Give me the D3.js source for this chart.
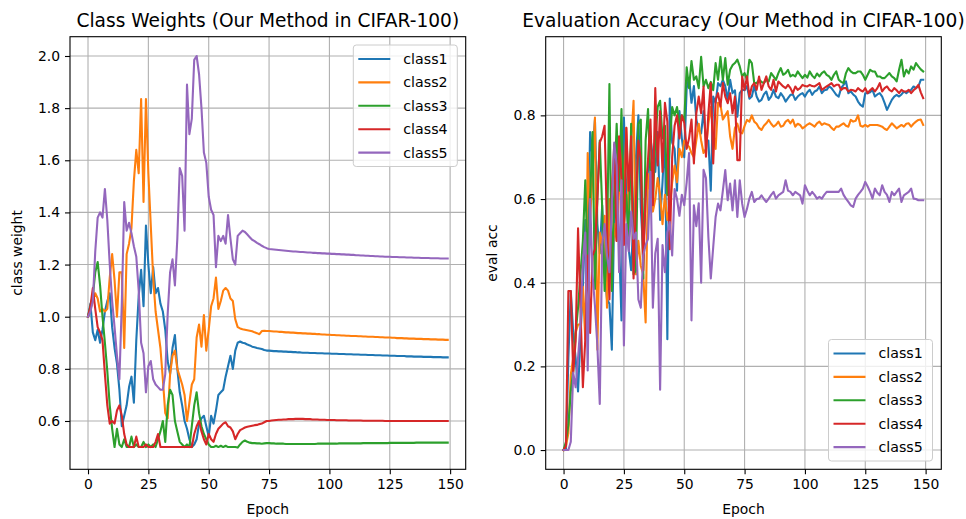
<!DOCTYPE html>
<html><head><meta charset="utf-8">
<script src="https://cdn.jsdelivr.net/npm/d3@7"></script>
<style>body{margin:0;background:#fff;}svg{display:block;}text{font-family:"DejaVu Sans",sans-serif;fill:#000;}</style>
</head><body><svg id="c" width="966" height="519"></svg>
<script>
const epochs = d3.range(150);
const classNames = ["class1","class2","class3","class4","class5"];
const classColors = ["#1f77b4","#ff7f0e","#2ca02c","#d62728","#9467bd"];
const xTicks = [0,25,50,75,100,125,150];
const weightTicks = [0.6,0.8,1.0,1.2,1.4,1.6,1.8,2.0];
const accTicks = [0.0,0.2,0.4,0.6,0.8];

const weightClass1 = [1.00,1.05,0.94,0.91,0.95,0.90,0.95,1.02,1.06,1.09,
 0.96,0.88,0.82,0.72,0.58,0.62,0.66,0.73,0.77,0.67,
 0.91,1.08,1.18,1.04,1.35,1.20,1.09,1.19,1.09,1.11,
 1.05,1.02,0.95,0.83,0.78,0.88,0.93,0.80,0.71,0.66,
 0.60,0.57,0.53,0.50,0.51,0.53,0.59,0.61,0.62,0.58,
 0.54,0.62,0.59,0.64,0.70,0.71,0.72,0.77,0.81,0.85,
 0.80,0.87,0.90,0.905,0.90,0.898,0.893,0.89,0.885,0.883,
 0.88,0.878,0.876,0.872,0.87,0.87,0.869,0.868,0.868,0.867,
 0.867,0.866,0.866,0.865,0.865,0.864,0.864,0.863,0.863,0.862,
 0.862,0.862,0.861,0.861,0.861,0.860,0.860,0.860,0.859,0.859,
 0.859,0.858,0.858,0.858,0.857,0.857,0.857,0.856,0.856,0.856,
 0.855,0.855,0.855,0.854,0.854,0.854,0.853,0.853,0.853,0.852,
 0.852,0.852,0.851,0.851,0.851,0.850,0.850,0.850,0.849,0.849,
 0.849,0.849,0.848,0.848,0.848,0.847,0.847,0.847,0.847,0.846,
 0.846,0.846,0.846,0.845,0.845,0.845,0.845,0.844,0.844,0.844];
const weightClass2 = [1.00,1.03,1.06,1.09,1.07,1.02,1.03,1.02,1.03,1.15,
 1.24,1.14,1.00,1.17,1.17,0.88,1.24,1.28,1.34,1.52,
 1.64,1.55,1.835,1.44,1.835,1.55,1.35,1.15,1.02,0.95,
 0.88,0.76,0.63,0.61,0.78,0.85,0.87,0.80,0.77,0.74,
 0.70,0.60,0.67,0.74,0.76,0.92,0.97,0.885,1.006,0.87,
 0.95,1.04,1.07,1.15,1.03,1.06,1.10,1.11,1.10,1.07,
 1.06,0.99,0.96,0.955,0.952,0.95,0.948,0.946,0.944,0.94,
 0.937,0.933,0.945,0.946,0.945,0.945,0.944,0.943,0.943,0.942,
 0.942,0.941,0.940,0.940,0.939,0.939,0.938,0.937,0.937,0.936,
 0.936,0.935,0.935,0.934,0.934,0.933,0.933,0.932,0.932,0.931,
 0.931,0.930,0.930,0.929,0.929,0.928,0.928,0.927,0.927,0.926,
 0.926,0.926,0.925,0.925,0.924,0.924,0.923,0.923,0.923,0.922,
 0.922,0.921,0.921,0.920,0.920,0.920,0.919,0.919,0.918,0.918,
 0.918,0.917,0.917,0.916,0.916,0.916,0.915,0.915,0.915,0.914,
 0.914,0.914,0.913,0.913,0.913,0.912,0.912,0.912,0.911,0.911];
const weightClass3 = [1.00,1.04,1.08,1.17,1.21,1.12,1.00,0.90,0.79,0.66,
 0.57,0.50,0.57,0.51,0.50,0.53,0.50,0.50,0.54,0.50,
 0.51,0.50,0.50,0.52,0.50,0.51,0.50,0.51,0.50,0.53,
 0.56,0.60,0.52,0.66,0.72,0.70,0.60,0.56,0.52,0.51,
 0.50,0.51,0.50,0.58,0.66,0.71,0.63,0.58,0.55,0.53,
 0.51,0.50,0.50,0.505,0.50,0.505,0.50,0.505,0.50,0.50,
 0.50,0.50,0.498,0.51,0.52,0.525,0.52,0.517,0.515,0.515,
 0.514,0.514,0.513,0.514,0.515,0.515,0.514,0.514,0.513,0.513,
 0.513,0.513,0.512,0.512,0.512,0.512,0.512,0.512,0.512,0.512,
 0.512,0.512,0.512,0.512,0.512,0.513,0.513,0.513,0.513,0.513,
 0.513,0.513,0.513,0.513,0.514,0.514,0.514,0.514,0.514,0.514,
 0.514,0.514,0.514,0.514,0.515,0.515,0.515,0.515,0.515,0.515,
 0.515,0.515,0.515,0.515,0.515,0.516,0.516,0.516,0.516,0.516,
 0.516,0.516,0.516,0.516,0.516,0.516,0.517,0.517,0.517,0.517,
 0.517,0.517,0.517,0.517,0.517,0.517,0.517,0.517,0.517,0.517];
const weightClass4 = [1.00,1.04,1.11,1.03,0.96,0.94,0.91,0.78,0.66,0.59,
 0.60,0.59,0.64,0.66,0.62,0.55,0.51,0.50,0.50,0.50,
 0.54,0.50,0.50,0.50,0.51,0.50,0.50,0.50,0.52,0.55,
 0.50,0.50,0.50,0.50,0.50,0.50,0.50,0.50,0.50,0.50,
 0.50,0.50,0.50,0.50,0.55,0.58,0.60,0.56,0.53,0.51,
 0.55,0.53,0.52,0.55,0.57,0.58,0.59,0.595,0.58,0.575,
 0.56,0.53,0.55,0.565,0.57,0.575,0.578,0.58,0.582,0.584,
 0.585,0.588,0.59,0.595,0.60,0.60,0.602,0.603,0.604,0.605,
 0.605,0.606,0.606,0.607,0.607,0.607,0.608,0.608,0.608,0.608,
 0.607,0.607,0.607,0.606,0.606,0.606,0.605,0.605,0.605,0.604,
 0.604,0.604,0.604,0.603,0.603,0.603,0.603,0.603,0.602,0.602,
 0.602,0.602,0.602,0.602,0.601,0.601,0.601,0.601,0.601,0.601,
 0.601,0.601,0.601,0.600,0.600,0.600,0.600,0.600,0.600,0.600,
 0.600,0.600,0.600,0.600,0.600,0.600,0.600,0.600,0.600,0.600,
 0.600,0.600,0.600,0.600,0.600,0.600,0.600,0.600,0.600,0.600];
const weightClass5 = [1.00,1.02,1.06,1.25,1.38,1.40,1.38,1.49,1.37,1.20,
 1.06,0.96,0.85,0.76,1.05,1.44,1.33,1.36,1.32,1.27,
 1.23,1.10,0.90,0.86,0.71,0.81,0.83,0.76,0.74,0.73,
 0.72,0.72,0.78,1.01,1.17,1.22,1.12,1.30,1.57,1.54,
 1.33,1.89,1.70,1.76,1.985,2.00,1.93,1.80,1.63,1.59,
 1.46,1.41,1.39,1.19,1.31,1.29,1.31,1.28,1.39,1.30,
 1.22,1.20,1.31,1.32,1.33,1.325,1.315,1.305,1.295,1.29,
 1.283,1.278,1.272,1.267,1.263,1.26,1.259,1.258,1.257,1.256,
 1.255,1.254,1.253,1.252,1.251,1.250,1.250,1.249,1.248,1.248,
 1.247,1.246,1.246,1.245,1.245,1.244,1.244,1.243,1.243,1.242,
 1.242,1.241,1.241,1.240,1.240,1.239,1.239,1.238,1.238,1.237,
 1.237,1.236,1.236,1.235,1.235,1.234,1.234,1.233,1.233,1.232,
 1.232,1.231,1.231,1.230,1.230,1.230,1.229,1.229,1.229,1.228,
 1.228,1.228,1.227,1.227,1.227,1.226,1.226,1.226,1.225,1.225,
 1.225,1.225,1.224,1.224,1.224,1.224,1.223,1.223,1.223,1.223];

const accClass1 = [0.00,0.00,0.22,0.38,0.28,0.22,0.14,0.27,0.39,0.55,
 0.45,0.76,0.70,0.79,0.54,0.47,0.585,0.425,0.36,0.35,
 0.24,0.57,0.60,0.50,0.31,0.795,0.62,0.48,0.43,0.56,
 0.70,0.80,0.58,0.47,0.60,0.67,0.745,0.70,0.665,0.76,
 0.55,0.64,0.76,0.265,0.84,0.735,0.72,0.62,0.81,0.745,
 0.70,0.865,0.89,0.83,0.87,0.79,0.765,0.757,0.81,0.74,
 0.74,0.62,0.845,0.83,0.877,0.87,0.885,0.87,0.837,0.885,
 0.853,0.86,0.797,0.853,0.861,0.86,0.87,0.84,0.845,0.87,
 0.845,0.833,0.837,0.85,0.857,0.837,0.845,0.861,0.845,0.841,
 0.853,0.845,0.833,0.841,0.849,0.85,0.837,0.845,0.85,0.853,
 0.845,0.855,0.861,0.849,0.857,0.86,0.869,0.853,0.86,0.861,
 0.869,0.865,0.857,0.849,0.845,0.865,0.873,0.881,0.853,0.857,
 0.85,0.845,0.833,0.825,0.821,0.853,0.853,0.855,0.861,0.845,
 0.85,0.853,0.845,0.83,0.813,0.825,0.837,0.845,0.849,0.845,
 0.85,0.857,0.853,0.858,0.861,0.869,0.865,0.869,0.885,0.885];
const accClass2 = [0.00,0.01,0.04,0.18,0.22,0.28,0.30,0.30,0.39,0.265,
 0.71,0.55,0.66,0.795,0.24,0.52,0.49,0.56,0.34,0.60,
 0.44,0.54,0.50,0.62,0.74,0.585,0.77,0.57,0.73,0.835,
 0.42,0.50,0.44,0.42,0.305,0.66,0.615,0.57,0.60,0.65,
 0.61,0.54,0.61,0.55,0.58,0.64,0.68,0.64,0.72,0.70,
 0.74,0.73,0.725,0.71,0.70,0.74,0.78,0.74,0.71,0.72,
 0.78,0.82,0.76,0.72,0.83,0.825,0.79,0.80,0.81,0.75,
 0.72,0.77,0.78,0.76,0.757,0.775,0.789,0.785,0.80,0.785,
 0.78,0.77,0.765,0.775,0.781,0.789,0.78,0.773,0.777,0.785,
 0.773,0.775,0.785,0.789,0.781,0.79,0.773,0.78,0.777,0.769,
 0.773,0.778,0.781,0.777,0.773,0.781,0.785,0.777,0.781,0.779,
 0.777,0.77,0.765,0.773,0.773,0.777,0.781,0.775,0.773,0.789,
 0.785,0.787,0.80,0.775,0.773,0.777,0.773,0.777,0.777,0.777,
 0.777,0.775,0.773,0.768,0.765,0.773,0.781,0.775,0.769,0.773,
 0.777,0.773,0.78,0.781,0.773,0.78,0.785,0.789,0.79,0.777];
const accClass3 = [0.00,0.02,0.06,0.14,0.19,0.28,0.34,0.42,0.50,0.645,
 0.45,0.60,0.76,0.385,0.60,0.74,0.58,0.38,0.49,0.875,
 0.38,0.62,0.78,0.62,0.815,0.54,0.61,0.50,0.78,0.42,
 0.43,0.78,0.79,0.41,0.74,0.815,0.65,0.59,0.74,0.82,
 0.835,0.745,0.775,0.61,0.735,0.82,0.80,0.82,0.78,0.80,
 0.785,0.915,0.865,0.93,0.885,0.893,0.865,0.94,0.869,0.885,
 0.865,0.88,0.86,0.925,0.885,0.94,0.885,0.937,0.873,0.909,
 0.92,0.925,0.933,0.917,0.893,0.901,0.885,0.933,0.925,0.877,
 0.877,0.885,0.88,0.877,0.885,0.881,0.901,0.893,0.885,0.901,
 0.913,0.897,0.901,0.909,0.893,0.897,0.893,0.905,0.897,0.889,
 0.897,0.89,0.905,0.895,0.889,0.9,0.893,0.901,0.905,0.897,
 0.893,0.885,0.897,0.905,0.885,0.88,0.877,0.901,0.913,0.905,
 0.901,0.901,0.905,0.905,0.897,0.885,0.897,0.909,0.905,0.905,
 0.893,0.893,0.889,0.889,0.895,0.901,0.893,0.889,0.881,0.909,
 0.933,0.893,0.909,0.9,0.917,0.909,0.925,0.917,0.91,0.905];
const accClass4 = [0.00,0.01,0.38,0.38,0.185,0.26,0.53,0.34,0.15,0.265,
 0.465,0.28,0.465,0.48,0.60,0.735,0.75,0.775,0.53,0.36,
 0.615,0.73,0.50,0.75,0.65,0.49,0.77,0.62,0.75,0.41,
 0.60,0.74,0.695,0.43,0.615,0.695,0.79,0.585,0.865,0.68,
 0.81,0.665,0.83,0.785,0.48,0.70,0.775,0.80,0.745,0.80,
 0.783,0.72,0.745,0.79,0.685,0.805,0.845,0.805,0.869,0.701,
 0.805,0.877,0.685,0.837,0.853,0.821,0.877,0.845,0.829,0.853,
 0.805,0.845,0.693,0.693,0.893,0.861,0.893,0.845,0.869,0.877,
 0.861,0.893,0.861,0.877,0.893,0.869,0.861,0.885,0.857,0.881,
 0.875,0.869,0.865,0.873,0.865,0.853,0.869,0.861,0.865,0.873,
 0.87,0.869,0.873,0.87,0.869,0.873,0.877,0.861,0.865,0.869,
 0.873,0.877,0.869,0.873,0.873,0.861,0.865,0.865,0.857,0.861,
 0.86,0.857,0.865,0.86,0.857,0.865,0.853,0.86,0.865,0.857,
 0.865,0.877,0.857,0.865,0.869,0.861,0.857,0.865,0.86,0.853,
 0.861,0.857,0.857,0.861,0.853,0.86,0.865,0.873,0.855,0.841];
const accClass5 = [0.00,0.00,0.00,0.02,0.185,0.15,0.22,0.30,0.45,0.52,
 0.19,0.60,0.42,0.345,0.25,0.11,0.49,0.54,0.465,0.425,
 0.585,0.735,0.68,0.425,0.645,0.25,0.54,0.475,0.57,0.505,
 0.52,0.36,0.34,0.465,0.49,0.505,0.665,0.34,0.47,0.505,
 0.144,0.49,0.425,0.52,0.545,0.465,0.624,0.60,0.56,0.61,
 0.585,0.64,0.71,0.31,0.585,0.535,0.59,0.40,0.67,0.65,
 0.509,0.41,0.485,0.557,0.589,0.573,0.62,0.669,0.597,0.637,
 0.573,0.645,0.557,0.645,0.589,0.557,0.577,0.601,0.617,0.593,
 0.60,0.601,0.609,0.60,0.593,0.601,0.61,0.617,0.601,0.609,
 0.613,0.617,0.645,0.62,0.617,0.609,0.617,0.613,0.609,0.589,
 0.633,0.62,0.609,0.617,0.61,0.601,0.605,0.601,0.61,0.617,
 0.617,0.617,0.617,0.617,0.617,0.625,0.61,0.601,0.593,0.585,
 0.581,0.601,0.61,0.617,0.625,0.641,0.63,0.617,0.601,0.625,
 0.615,0.609,0.633,0.617,0.61,0.593,0.617,0.609,0.617,0.625,
 0.593,0.609,0.613,0.617,0.625,0.601,0.6,0.597,0.597,0.597];

const svg = d3.select("#c");
svg.append("rect").attr("width",966).attr("height",519).attr("fill","#fff");

function panel(cfg){
  const {id,left,right,top,bottom,xDomain,yDomain,yTicks,series,title,ylabel,ylabelX,legend} = cfg;
  const x = d3.scaleLinear().domain(xDomain).range([left,right]);
  const y = d3.scaleLinear().domain(yDomain).range([bottom,top]);
  const g = svg.append("g");
  g.append("clipPath").attr("id",id).append("rect")
    .attr("x",left).attr("y",top).attr("width",right-left).attr("height",bottom-top);
  const grid = g.append("g").attr("stroke","#b0b0b0").attr("stroke-width",1.1);
  grid.selectAll("line.gx").data(xTicks).join("line").attr("class","gx")
    .attr("x1",d=>x(d)).attr("x2",d=>x(d)).attr("y1",top).attr("y2",bottom);
  grid.selectAll("line.gy").data(yTicks).join("line").attr("class","gy")
    .attr("x1",left).attr("x2",right).attr("y1",d=>y(d)).attr("y2",d=>y(d));
  const line = d3.line().x((d,j)=>x(epochs[j])).y(d=>y(d));
  const lines = g.append("g").attr("clip-path",`url(#${id})`);
  series.forEach((s,i)=>{
    lines.append("path").datum(s).attr("d",line).attr("fill","none")
      .attr("stroke",classColors[i]).attr("stroke-width",2.1)
      .attr("stroke-linejoin","round").attr("stroke-linecap","square");
  });
  const xa = g.append("g").attr("transform",`translate(0,${bottom})`)
    .call(d3.axisBottom(x).tickValues(xTicks).tickSize(5).tickPadding(5).tickFormat(d3.format("d")));
  const ya = g.append("g").attr("transform",`translate(${left},0)`)
    .call(d3.axisLeft(y).tickValues(yTicks).tickSize(5).tickPadding(5).tickFormat(d3.format(".1f")));
  [xa,ya].forEach(a=>{
    a.select(".domain").remove();
    a.selectAll(".tick line").attr("stroke","#000").attr("stroke-width",1.1);
    a.selectAll(".tick text").attr("font-size",13.9).attr("font-family","DejaVu Sans");
  });
  g.append("rect").attr("x",left).attr("y",top).attr("width",right-left).attr("height",bottom-top)
    .attr("fill","none").attr("stroke","#000").attr("stroke-width",1.1);
  g.append("text").attr("x",(left+right)/2).attr("y",top-9.5).attr("text-anchor","middle")
    .attr("font-size",18.6).text(title);
  g.append("text").attr("x",(left+right)/2).attr("y",514).attr("text-anchor","middle")
    .attr("font-size",13.9).text("Epoch");
  g.append("text").attr("transform",`translate(${ylabelX},${(top+bottom)/2}) rotate(-90)`)
    .attr("text-anchor","middle").attr("font-size",13.9).text(ylabel);
  // legend
  const lg = g.append("g").attr("transform",`translate(${legend.x},${legend.y})`);
  lg.append("rect").attr("width",104).attr("height",121.5).attr("rx",3).attr("ry",3)
    .attr("fill","#fff").attr("fill-opacity",0.8).attr("stroke","#cccccc").attr("stroke-width",1);
  classNames.forEach((n,i)=>{
    const cy = 14 + i*23.4;
    lg.append("line").attr("x1",5).attr("x2",37).attr("y1",cy).attr("y2",cy)
      .attr("stroke",classColors[i]).attr("stroke-width",2.1);
    lg.append("text").attr("x",50).attr("y",cy).attr("dy","0.35em").attr("font-size",14.2).text(n);
  });
}

panel({id:"clipL",left:70,right:465.7,top:36.7,bottom:469.3,
  xDomain:[-7.46,156.45],yDomain:[0.4147,2.074],yTicks:weightTicks,
  series:[weightClass1,weightClass2,weightClass3,weightClass4,weightClass5],
  title:"Class Weights (Our Method in CIFAR-100)",ylabel:"class weight",ylabelX:22,
  legend:{x:353.3,y:45}});
panel({id:"clipR",left:545.7,right:941.3,top:36.7,bottom:469.3,
  xDomain:[-7.4,156.5],yDomain:[-0.046,0.988],yTicks:accTicks,
  series:[accClass1,accClass2,accClass3,accClass4,accClass5],
  title:"Evaluation Accuracy (Our Method in CIFAR-100)",ylabel:"eval acc",ylabelX:497,
  legend:{x:828.5,y:339.5}});
</script></body></html>
